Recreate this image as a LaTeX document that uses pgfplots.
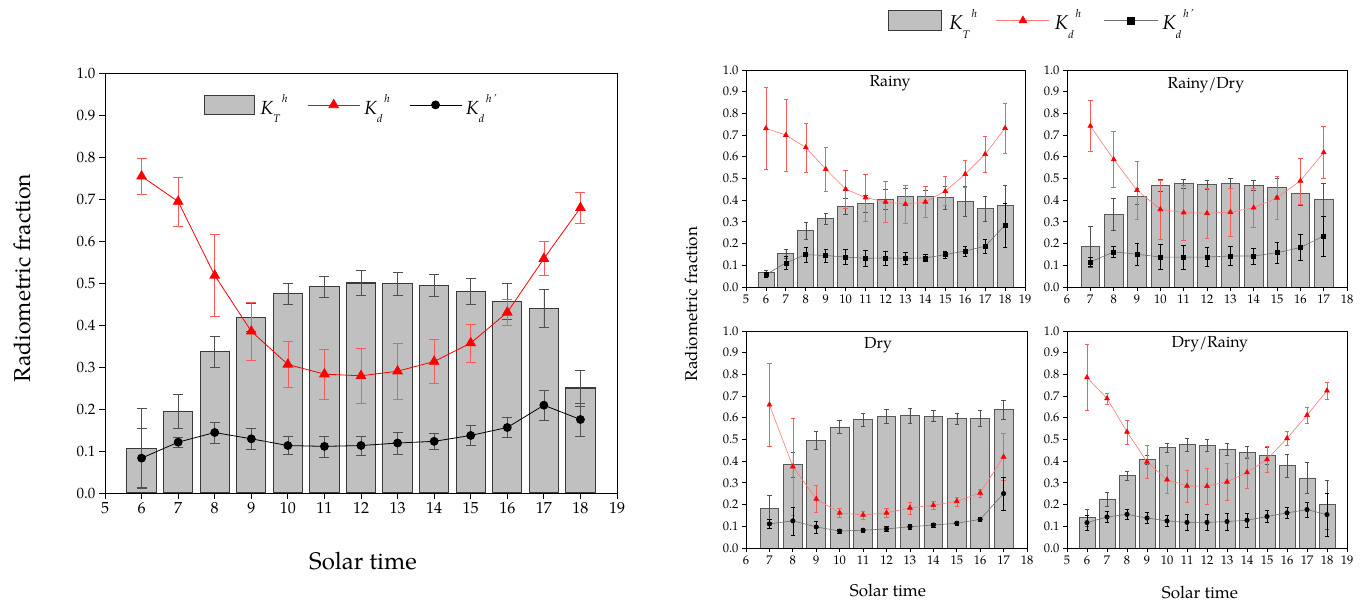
\documentclass[border=0pt]{standalone}
\usepackage{pgfplots}
\pgfplotsset{compat=1.18}
\usepackage{pgfplotstable}
\usepackage{fontspec}
\setmainfont{TeX Gyre Pagella}

\definecolor{barfill}{HTML}{C0C0C0}
\definecolor{baredge}{HTML}{3A3A3A}
\definecolor{barerr}{HTML}{505050}
\definecolor{lred}{HTML}{FF5A5A}
\definecolor{pred}{HTML}{FF7878}
\definecolor{lgray}{HTML}{707070}

% x: solar time; kt: K_T^h; kd: K_d^h; kp: K_d^h'
\pgfplotstableread{
x kt kte kd kde kp kpe
6 0.107 0.095 0.754 0.043 0.083 0.070
7 0.194 0.040 0.694 0.058 0.121 0.012
8 0.336 0.038 0.518 0.097 0.144 0.025
9 0.418 0.033 0.385 0.070 0.129 0.024
10 0.474 0.026 0.306 0.055 0.113 0.022
11 0.492 0.025 0.283 0.060 0.111 0.025
12 0.500 0.029 0.279 0.065 0.113 0.023
13 0.498 0.027 0.290 0.066 0.119 0.026
14 0.494 0.026 0.313 0.052 0.123 0.020
15 0.479 0.031 0.357 0.045 0.137 0.024
16 0.456 0.042 0.430 0.030 0.156 0.023
17 0.440 0.046 0.558 0.040 0.209 0.036
18 0.250 0.043 0.679 0.037 0.175 0.039
}\tabAll

\pgfplotstableread{
x kt kte kd kde kp kpe
6 0.068 0.010 0.731 0.190 0.057 0.010
7 0.154 0.020 0.700 0.166 0.111 0.030
8 0.260 0.038 0.643 0.113 0.149 0.033
9 0.314 0.025 0.543 0.100 0.145 0.030
10 0.371 0.038 0.451 0.088 0.138 0.035
11 0.383 0.040 0.412 0.108 0.132 0.036
12 0.405 0.045 0.392 0.095 0.134 0.033
13 0.417 0.038 0.382 0.088 0.132 0.028
14 0.418 0.026 0.392 0.070 0.134 0.017
15 0.412 0.053 0.442 0.067 0.149 0.018
16 0.395 0.070 0.520 0.062 0.166 0.023
17 0.362 0.057 0.612 0.083 0.188 0.031
18 0.374 0.094 0.732 0.116 0.285 0.100
}\tabRainy

\pgfplotstableread{
x kt kte kd kde kp kpe
7 0.185 0.095 0.742 0.118 0.115 0.020
8 0.334 0.074 0.588 0.130 0.162 0.025
9 0.418 0.035 0.446 0.133 0.151 0.050
10 0.468 0.027 0.358 0.136 0.138 0.058
11 0.477 0.020 0.343 0.127 0.138 0.054
12 0.472 0.020 0.340 0.114 0.138 0.044
13 0.478 0.023 0.345 0.110 0.143 0.043
14 0.469 0.025 0.365 0.088 0.143 0.037
15 0.460 0.040 0.411 0.100 0.158 0.047
16 0.431 0.055 0.489 0.106 0.182 0.060
17 0.403 0.075 0.620 0.120 0.235 0.093
}\tabRainyDry

\pgfplotstableread{
x kt kte kd kde kp kpe
7 0.182 0.063 0.660 0.190 0.111 0.022
8 0.383 0.057 0.375 0.224 0.125 0.065
9 0.497 0.042 0.226 0.062 0.097 0.028
10 0.558 0.031 0.162 0.020 0.078 0.008
11 0.592 0.031 0.152 0.018 0.082 0.008
12 0.608 0.031 0.162 0.020 0.088 0.010
13 0.611 0.034 0.185 0.028 0.098 0.013
14 0.608 0.026 0.197 0.018 0.106 0.010
15 0.597 0.026 0.215 0.021 0.114 0.008
16 0.597 0.038 0.254 0.018 0.132 0.008
17 0.638 0.044 0.420 0.108 0.251 0.077
}\tabDry

\pgfplotstableread{
x kt kte kd kde kp kpe
6 0.140 0.040 0.786 0.152 0.117 0.036
7 0.226 0.033 0.689 0.026 0.143 0.026
8 0.334 0.020 0.535 0.055 0.155 0.022
9 0.408 0.020 0.397 0.077 0.138 0.025
10 0.462 0.022 0.315 0.065 0.125 0.025
11 0.477 0.030 0.286 0.073 0.118 0.037
12 0.472 0.028 0.285 0.082 0.118 0.036
13 0.455 0.027 0.305 0.085 0.122 0.038
14 0.440 0.027 0.348 0.071 0.128 0.032
15 0.426 0.040 0.408 0.059 0.145 0.028
16 0.380 0.052 0.505 0.031 0.162 0.025
17 0.323 0.073 0.612 0.035 0.177 0.033
18 0.200 0.112 0.725 0.039 0.154 0.100
}\tabDryRainy

\newcommand{\subsup}[2]{\textit{K}\raisebox{-0.42em}{\fontsize{11}{11}\selectfont\textit{#1}}\raisebox{0.62em}{\fontsize{11}{11}\selectfont\,\textit{#2}}}

\pgfplotsset{
  base/.style={
    scale only axis, anchor=south west,
    ymin=0, ymax=1,
    ytick={0,0.1,0.2,0.3,0.4,0.5,0.6,0.7,0.8,0.9,1},
    tick align=outside, tick pos=left,
    /pgf/number format/assume math mode=true,
    yticklabel style={/pgf/number format/fixed, /pgf/number format/fixed zerofill, /pgf/number format/precision=1},
    axis line style={black, line width=0.9pt},
    tick style={black, line width=0.8pt},
  },
  small/.style={
    base, major tick length=4pt,
    tick label style={font=\fontsize{12.5}{12.5}\selectfont},
  },
  eb/.style n args={3}{
    error bars/y dir=both, error bars/y explicit,
    error bars/error bar style={#1, line width=#2},
    error bars/error mark options={rotate=90, #1, line width=#2, mark size=#3}},
  barsL/.style={ybar, bar width=0.8, fill=barfill, draw=baredge, line width=1.1pt,
    eb={barerr}{0.7pt}{5pt}},
  barsS/.style={ybar, bar width=0.8, fill=barfill, draw=baredge!85, line width=0.8pt,
    eb={barerr}{0.5pt}{2.2pt}},
  kdS/.style={pred, line width=0.6pt, mark=triangle*, mark size=2.8pt,
    mark options={fill=red, draw=red}, eb={lred}{0.5pt}{2.2pt}},
  kpS/.style={lgray, line width=0.6pt, mark=square*, mark size=2pt,
    mark options={fill=black, draw=black}, eb={black}{0.5pt}{2.2pt}},
  kpC/.style={kpS, mark=*, mark size=2.2pt},
  barleg/.style n args={3}{legend image code/.code={\draw[fill=barfill, draw=baredge, line width=#1] (0pt,-#3) rectangle (#2,#3);}},
  lineleg/.style n args={2}{legend image code/.code={\draw[mark repeat=2, mark phase=2, ##1, mark size=#2] plot coordinates {(0pt,0pt) (#1/2,0pt) (#1,0pt)};}},
}

\begin{document}
\begin{tikzpicture}
\useasboundingbox (0pt,0pt) rectangle (1370pt,605pt);

% ---------------- left: all data ----------------
\begin{axis}[base, at={(105pt,112pt)}, width=512pt, height=420pt,
  xmin=5, xmax=19, xtick={5,...,19},
  major tick length=6pt,
  xticklabel style={font=\fontsize{16}{16}\selectfont},
  yticklabel style={font=\fontsize{15}{15}\selectfont},
  legend style={at={(0.1934,0.924)}, anchor=west, draw=none, fill=none,
    inner sep=0pt, column sep=0pt, nodes={inner sep=0pt}, legend columns=3,
    font=\fontsize{19}{19}\selectfont},
  legend cell align=left,
]
\addplot[barsL, barleg={1.1pt}{50pt}{9.5pt}] table[x=x, y=kt, y error=kte] {\tabAll};
\addlegendentry{\makebox[52pt][l]{\hspace{5pt}\subsup{T}{h}}}
\addplot[red, line width=0.8pt, mark=triangle*, mark size=5.5pt,
  mark options={fill=red, draw=red}, lineleg={52pt}{5.5pt}, eb={lred}{0.7pt}{5pt}]
  table[x=x, y=kd, y error=kde] {\tabAll};
\addlegendentry{\makebox[49pt][l]{\hspace{4pt}\subsup{d}{h}}}
\addplot[black, line width=0.8pt, mark=*, mark size=4pt,
  mark options={fill=black, draw=black}, lineleg={52pt}{4pt}, eb={barerr}{0.7pt}{5pt}]
  table[x=x, y=kp, y error=kpe] {\tabAll};
\addlegendentry{\hspace{4pt}\subsup{d}{h\,\textquoteright}}
\end{axis}
\node[rotate=90, font=\fontsize{23}{23}\selectfont] at (22pt,327pt) {Radiometric fraction};
\node[font=\fontsize{24}{24}\selectfont] at (363pt,44pt) {Solar time};

% ---------------- Rainy ----------------
\begin{axis}[small, at={(746pt,318pt)}, width=279pt, height=217pt,
  xmin=5, xmax=19, xtick={5,...,19},
  legend style={at={(0.509,1.228)}, anchor=west, draw=none, fill=none,
    inner sep=0pt, column sep=0pt, nodes={inner sep=0pt}, legend columns=3,
    font=\fontsize{20}{20}\selectfont},
  legend cell align=left,
]
\addplot[barsS, barleg={0.9pt}{53pt}{10pt}] table[x=x, y=kt, y error=kte] {\tabRainy};
\addlegendentry{\makebox[54pt][l]{\hspace{7pt}\subsup{T}{h}}}
\addplot[kdS, lineleg={53pt}{4.5pt}] table[x=x, y=kd, y error=kde] {\tabRainy};
\addlegendentry{\makebox[54pt][l]{\hspace{5pt}\subsup{d}{h}}}
\addplot[kpS, lineleg={54pt}{3.5pt}] table[x=x, y=kp, y error=kpe] {\tabRainy};
\addlegendentry{\hspace{4pt}\subsup{d}{h\,\textquoteright}}
\node[anchor=north, inner sep=0pt, font=\fontsize{16}{16}\selectfont] at (rel axis cs:0.516,0.975) {Rainy};
\end{axis}

% ---------------- Rainy/Dry ----------------
\begin{axis}[small, at={(1067pt,318pt)}, width=280pt, height=217pt,
  xmin=6, xmax=18, xtick={6,...,18}]
\addplot[barsS] table[x=x, y=kt, y error=kte] {\tabRainyDry};
\addplot[kdS] table[x=x, y=kd, y error=kde] {\tabRainyDry};
\addplot[kpS] table[x=x, y=kp, y error=kpe] {\tabRainyDry};
\node[anchor=north, inner sep=0pt, font=\fontsize{16}{16}\selectfont] at (rel axis cs:0.496,0.965) {Rainy/Dry};
\end{axis}

% ---------------- Dry ----------------
\begin{axis}[small, at={(746pt,57pt)}, width=281pt, height=217pt,
  xmin=6, xmax=18, xtick={6,...,18}]
\addplot[barsS] table[x=x, y=kt, y error=kte] {\tabDry};
\addplot[kdS] table[x=x, y=kd, y error=kde] {\tabDry};
\addplot[kpC] table[x=x, y=kp, y error=kpe] {\tabDry};
\node[anchor=north, inner sep=0pt, font=\fontsize{16}{16}\selectfont] at (rel axis cs:0.47,0.972) {Dry};
\end{axis}

% ---------------- Dry/Rainy ----------------
\begin{axis}[small, at={(1067pt,57pt)}, width=280pt, height=217pt,
  xmin=5, xmax=19, xtick={5,...,19}]
\addplot[barsS] table[x=x, y=kt, y error=kte] {\tabDryRainy};
\addplot[kdS] table[x=x, y=kd, y error=kde] {\tabDryRainy};
\addplot[kpC] table[x=x, y=kp, y error=kpe] {\tabDryRainy};
\node[anchor=north, inner sep=0pt, font=\fontsize{16}{16}\selectfont] at (rel axis cs:0.51,0.975) {Dry/Rainy};
\end{axis}

\node[rotate=90, font=\fontsize{17}{17}\selectfont] at (691pt,301pt) {Radiometric fraction};
\node[font=\fontsize{17}{17}\selectfont] at (888pt,15pt) {Solar time};
\node[font=\fontsize{17}{17}\selectfont] at (1200pt,13pt) {Solar time};
\end{tikzpicture}
\end{document}
